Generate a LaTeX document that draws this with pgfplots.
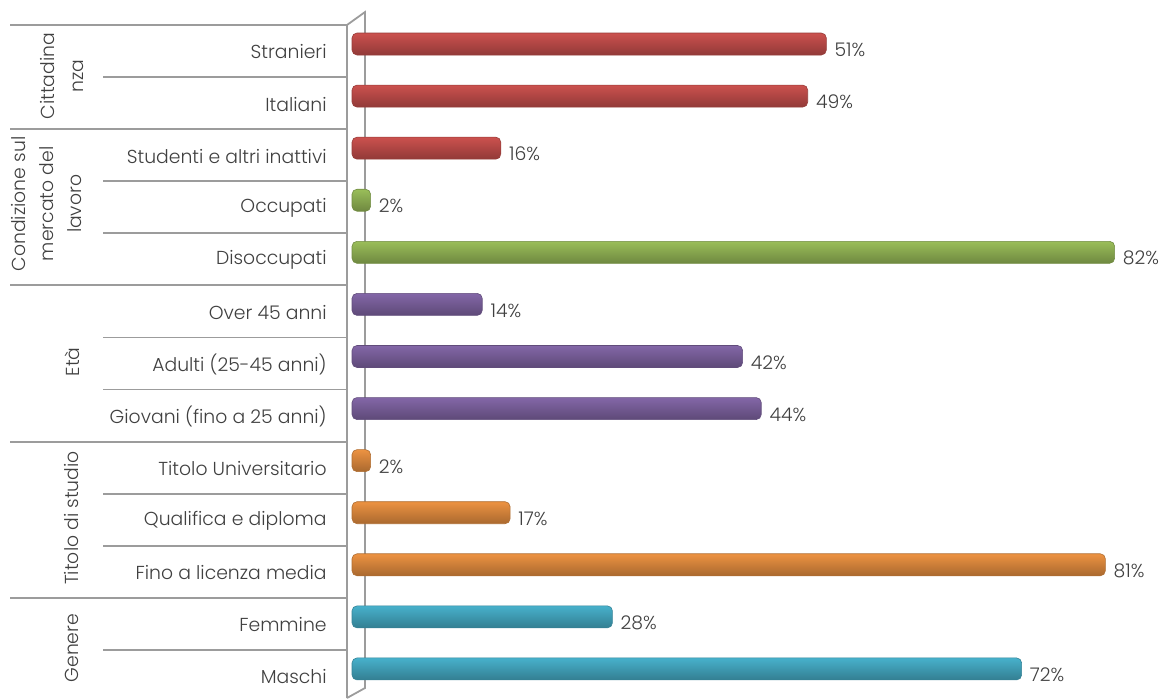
\documentclass[border=0pt]{standalone}
\usepackage{pgfplots}
\pgfplotsset{compat=1.18}
\usepackage{fontspec}
\setmainfont{Poppins}[UprightFont=* Light]

\definecolor{txt}{HTML}{404040}
\definecolor{grid}{HTML}{9C9C9C}
\definecolor{cred}{HTML}{D65552}
\definecolor{cgreen}{HTML}{A2C85E}
\definecolor{cpurple}{HTML}{8A6CB0}
\definecolor{corange}{HTML}{F99A45}
\definecolor{cblue}{HTML}{4BBAD6}

\tikzset{cyl/.style={shading=axis, shading angle=0,
  top color=#1!95!black, middle color=#1!80!white, bottom color=#1!68!black,
  draw=#1!70!black, line width=0.3pt, rounded corners=2.5pt}}

\begin{document}
\begin{tikzpicture}
\begin{axis}[
  set layers,
  scale only axis,
  width=406pt, height=349pt,
  xmin=0, xmax=87.31,
  ymin=-0.845, ymax=12.558,
  y dir=reverse,
  xbar, bar width=11pt, bar shift=0pt,
  clip=false,
  axis lines=left,
  axis line style={draw=none},
  xtick=\empty,
  ytick={0,...,12},
  yticklabels={Stranieri,Italiani,Studenti e altri inattivi,Occupati,Disoccupati,
    Over 45 anni,Adulti (25-45 anni),Giovani (fino a 25 anni),
    Titolo Universitario,Qualifica e diploma,Fino a licenza media,Femmine,Maschi},
  major tick length=0pt,
  yticklabel style={font=\fontsize{9.4}{11}\selectfont, text=txt, inner sep=0pt,
    anchor=east, xshift=-12.5pt, yshift=-4pt},
  /pgf/number format/assume math mode=true,
  nodes near coords={\pgfmathprintnumber{\pgfplotspointmeta}\%},
  nodes near coords align=horizontal,
  every node near coord/.append style={font=\fontsize{9.4}{11}\selectfont,
    text=txt, inner sep=0pt, xshift=4pt, yshift=-3pt},
]
\begin{pgfonlayer}{axis background}
  % tabella a sinistra
  \draw[grid, line width=0.9pt]
    (axis cs:-36.77,-0.365) -- (axis cs:-0.54,-0.365)
    (axis cs:-36.77,1.635) -- (axis cs:-0.54,1.635)
    (axis cs:-36.77,4.635) -- (axis cs:-0.54,4.635)
    (axis cs:-36.77,7.635) -- (axis cs:-0.54,7.635)
    (axis cs:-36.77,10.635) -- (axis cs:-0.54,10.635);
  \draw[grid, line width=0.9pt]
    (axis cs:-26.77,0.635) -- (axis cs:-0.54,0.635)
    (axis cs:-26.77,2.635) -- (axis cs:-0.54,2.635)
    (axis cs:-26.77,3.635) -- (axis cs:-0.54,3.635)
    (axis cs:-26.77,5.635) -- (axis cs:-0.54,5.635)
    (axis cs:-26.77,6.635) -- (axis cs:-0.54,6.635)
    (axis cs:-26.77,8.635) -- (axis cs:-0.54,8.635)
    (axis cs:-26.77,9.635) -- (axis cs:-0.54,9.635)
    (axis cs:-26.77,11.635) -- (axis cs:-0.54,11.635);
  % parete 3D
  \draw[grid, line width=0.9pt]
    (axis cs:-0.54,12.558) -- (axis cs:-0.54,-0.365) -- (axis cs:1.40,-0.614)
    -- (axis cs:1.40,12.366) -- (axis cs:-0.54,12.558);
\end{pgfonlayer}

% una barra per plot, cosi la sfumatura vale per ogni barra
\addplot[cyl=cred] coordinates {(51,0)};
\addplot[cyl=cred] coordinates {(49,1)};
\addplot[cyl=cred] coordinates {(16,2)};
\addplot[cyl=cgreen] coordinates {(2,3)};
\addplot[cyl=cgreen] coordinates {(82,4)};
\addplot[cyl=cpurple] coordinates {(14,5)};
\addplot[cyl=cpurple] coordinates {(42,6)};
\addplot[cyl=cpurple] coordinates {(44,7)};
\addplot[cyl=corange] coordinates {(2,8)};
\addplot[cyl=corange] coordinates {(17,9)};
\addplot[cyl=corange] coordinates {(81,10)};
\addplot[cyl=cblue] coordinates {(28,11)};
\addplot[cyl=cblue] coordinates {(72,12)};

\node[rotate=90, align=center, text=txt, font=\fontsize{9.4}{14.5}\selectfont]
  at (axis cs:-31.18,0.614) {Cittadina\\nza};
\node[rotate=90, align=center, text=txt, font=\fontsize{9.4}{14}\selectfont]
  at (axis cs:-32.80,3.07) {Condizione sul\\mercato del\\lavoro};
\node[rotate=90, text=txt, font=\fontsize{9.4}{14.5}\selectfont]
  at (axis cs:-30.11,6.106) {Età};
\node[rotate=90, text=txt, font=\fontsize{9.4}{14.5}\selectfont]
  at (axis cs:-30.11,9.10) {Titolo di studio};
\node[rotate=90, text=txt, font=\fontsize{9.4}{14.5}\selectfont]
  at (axis cs:-30.11,11.60) {Genere};

\coordinate (bbA) at (axis cs:-37.85,-0.845);
\coordinate (bbB) at (axis cs:87.31,12.558);
\end{axis}
\pgfresetboundingbox
\path (bbA) rectangle (bbB);
\end{tikzpicture}
\end{document}
